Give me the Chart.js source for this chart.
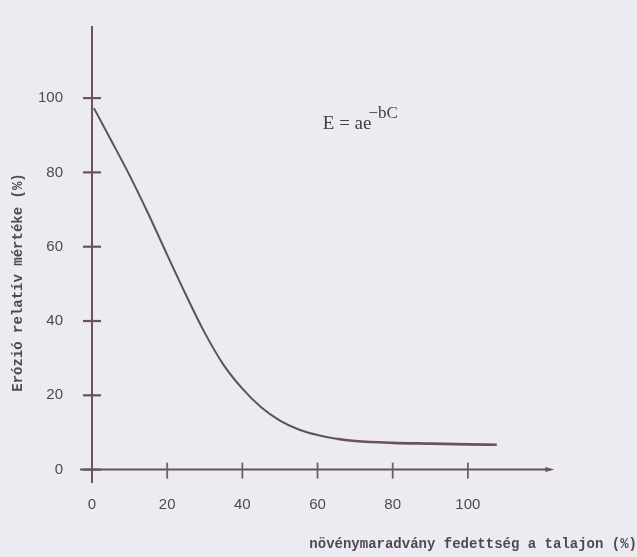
<!DOCTYPE html>
<html>
<head>
<meta charset="utf-8">
<script src="https://cdn.jsdelivr.net/npm/chart.js@4/dist/chart.umd.min.js"></script>
<style>
html,body{margin:0;padding:0;background:#ebebf1;}
#wrap{width:637px;height:557px;}
</style>
</head>
<body>
<div id="wrap"><canvas id="c" width="637" height="557"></canvas></div>
<script>
// ---- data ----
const coverage = [0.5, 5, 10, 15, 20, 25, 30, 35, 40, 45, 50, 55, 60, 65, 70, 80, 90, 100, 107.7];
const erosion  = [97.3, 88.8, 79.2, 68.8, 57.8, 47, 36.8, 28.2, 21.8, 16.8, 13.2, 10.8, 9.3, 8.3, 7.7, 7.2, 7.0, 6.8, 6.7];
const xTicks = [0, 20, 40, 60, 80, 100];
const yTicks = [0, 20, 40, 60, 80, 100];
const xAxisTitle = 'növénymaradvány fedettség a talajon (%)';
const yAxisTitle = 'Erózió relatív mértéke (%)';
const formulaBase = 'E = ae';
const formulaExp = '\u2212bC';

// axis extents (value units)
const xAxisFrom = -3.2, xAxisTo = 123;
const yAxisFrom = -3.6, yAxisTo = 119.4;
const formulaAt = {x: 61.4, y: 93};

const AXIS_COLOR = '#6d5060';
const TEXT_COLOR = '#4d4b50';

const axesPlugin = {
  id: 'axesPlugin',
  beforeDraw(chart) {
    const ctx = chart.ctx;
    ctx.save();
    ctx.fillStyle = '#ebebf1';
    ctx.fillRect(0, 0, chart.width, chart.height);
    ctx.restore();
  },
  beforeDatasetsDraw(chart) {
    const ctx = chart.ctx, xs = chart.scales.x, ys = chart.scales.y;
    const x0 = xs.getPixelForValue(0), y0 = ys.getPixelForValue(0);
    ctx.save();
    ctx.strokeStyle = AXIS_COLOR;
    ctx.lineWidth = 2;
    // y axis
    ctx.beginPath();
    ctx.moveTo(x0, ys.getPixelForValue(yAxisTo));
    ctx.lineTo(x0, ys.getPixelForValue(yAxisFrom));
    ctx.stroke();
    // x axis
    const xEnd = xs.getPixelForValue(xAxisTo);
    ctx.beginPath();
    ctx.moveTo(xs.getPixelForValue(xAxisFrom), y0);
    ctx.lineTo(xEnd - 4, y0);
    ctx.stroke();
    ctx.fillStyle = AXIS_COLOR;
    ctx.beginPath();
    ctx.moveTo(xEnd, y0);
    ctx.lineTo(xEnd - 9, y0 - 2.5);
    ctx.lineTo(xEnd - 9, y0 + 2.5);
    ctx.closePath();
    ctx.fill();
    // y tick marks
    ctx.lineWidth = 2.2;
    yTicks.forEach(v => {
      const py = ys.getPixelForValue(v);
      ctx.beginPath();
      ctx.moveTo(x0 - 9, py);
      ctx.lineTo(x0 + 9, py);
      ctx.stroke();
    });
    // x tick marks
    ctx.lineWidth = 1.8;
    ctx.strokeStyle = '#6a6068';
    xTicks.forEach(v => {
      if (v === 0) return;
      const px = xs.getPixelForValue(v);
      ctx.beginPath();
      ctx.moveTo(px, y0 - 7);
      ctx.lineTo(px, y0 + 9);
      ctx.stroke();
    });
    ctx.restore();
  },
  afterDraw(chart) {
    const ctx = chart.ctx, xs = chart.scales.x, ys = chart.scales.y;
    const px = xs.getPixelForValue(formulaAt.x), py = ys.getPixelForValue(formulaAt.y);
    ctx.save();
    ctx.fillStyle = '#3f3f44';
    ctx.textBaseline = 'middle';
    ctx.textAlign = 'left';
    ctx.font = '19px "Liberation Serif"';
    ctx.fillText(formulaBase, px, py);
    const w = ctx.measureText(formulaBase).width;
    ctx.font = '17px "Liberation Serif"';
    ctx.fillText(formulaExp, px + w - 3, py - 11);
    ctx.restore();
  }
};

const points = coverage.map((c, i) => ({x: c, y: erosion[i]}));

new Chart(document.getElementById('c'), {
  type: 'scatter',
  data: {
    datasets: [{
      data: points,
      showLine: true,
      borderColor: '#58565c',
      borderWidth: 2,
      pointRadius: 0,
      cubicInterpolationMode: 'monotone',
      segment: {
        borderColor: c => (c.p0.parsed.x >= 65 ? '#6d5060' : '#58565c'),
        borderWidth: c => (c.p0.parsed.x >= 65 ? 2.6 : 2)
      }
    }]
  },
  options: {
    responsive: false,
    animation: false,
    devicePixelRatio: 1,
    layout: {padding: {top: 8, left: 0, right: 0, bottom: 0}},
    plugins: {
      legend: {display: false},
      tooltip: {enabled: false},
      title: {
        display: true, text: xAxisTitle, position: 'bottom', align: 'end',
        color: TEXT_COLOR,
        font: {family: '"Liberation Mono"', size: 14, weight: 'bold', lineHeight: 1.2},
        padding: {top: 0, bottom: 4}
      },
      subtitle: {
        display: true, text: yAxisTitle, position: 'left', align: 'center',
        color: TEXT_COLOR,
        font: {family: '"Liberation Mono"', size: 14, weight: 'bold', lineHeight: 1.2},
        padding: {top: 10, bottom: 0}
      }
    },
    scales: {
      x: {
        type: 'linear', min: -3.2, max: 145,
        afterBuildTicks: s => { s.ticks = xTicks.map(v => ({value: v})); },
        afterFit: s => { s.height = 53.2; },
        grid: {display: false, drawTicks: false},
        border: {display: false},
        ticks: {
          padding: 13, autoSkip: false, maxRotation: 0, color: TEXT_COLOR,
          font: {family: '"Liberation Sans"', size: 15}
        }
      },
      y: {
        type: 'linear', min: -3.6, max: 119.4,
        afterBuildTicks: s => { s.ticks = yTicks.map(v => ({value: v})); },
        afterFit: s => { s.width = 53.2; },
        grid: {display: false, drawTicks: false},
        border: {display: false},
        ticks: {
          padding: 17, autoSkip: false, color: TEXT_COLOR,
          font: {family: '"Liberation Sans"', size: 15}
        }
      }
    }
  },
  plugins: [axesPlugin]
});
</script>
</body>
</html>
